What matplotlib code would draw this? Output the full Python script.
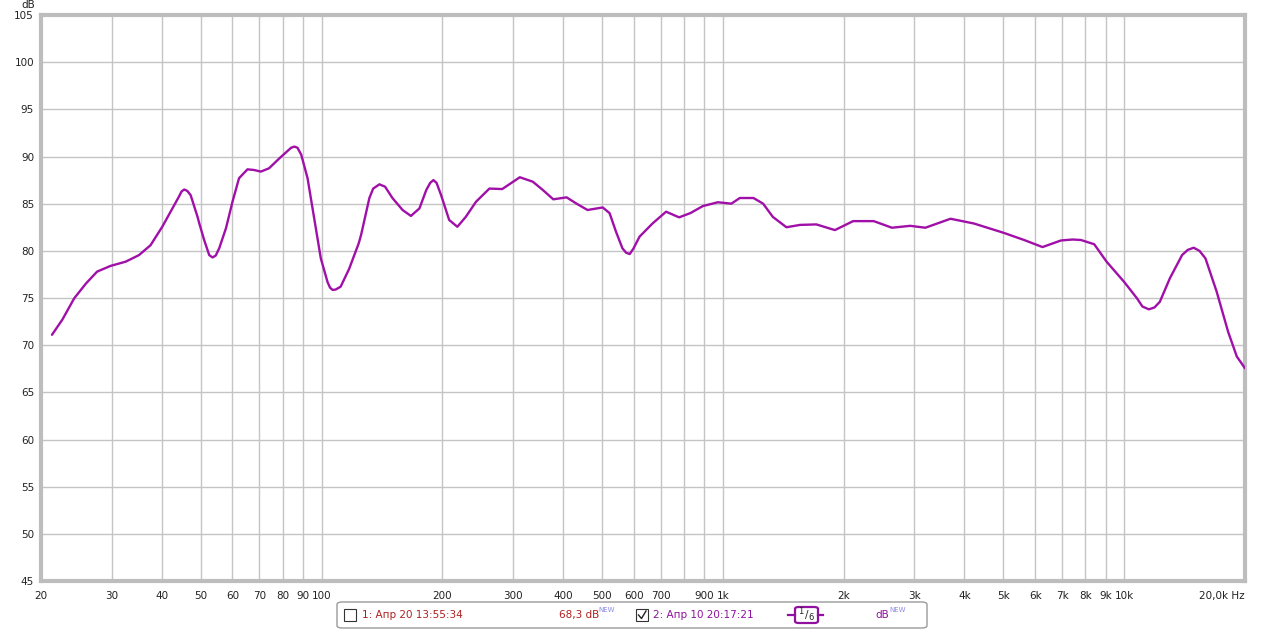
import matplotlib.pyplot as plt
import matplotlib.ticker as mticker
from matplotlib.patches import FancyBboxPatch, Rectangle
from matplotlib.lines import Line2D

# Data
freq = [21.3, 22.6, 24.2, 25.9, 27.6, 29.8, 32.5, 35.1, 37.5, 40.1, 42.5, 44.2,
        44.8, 45.5, 46.3, 47.2, 49.1, 49.6, 51.0, 51.5, 52.5, 53.5, 54.5, 55.6, 57.8,
        60.0, 62.3, 65.4, 67.9, 70.6, 74.0, 78.5, 82.4, 84.0, 85.6, 87.1, 89.0, 92.3,
        95.9, 99.6, 103.5, 105.0, 106.6, 108.5, 111.6, 117.2, 123.8, 125.5, 131.6,
        134.5, 139.4, 144, 150.2, 159.2, 167, 175.4, 182.4, 186.5, 190, 193.5, 198.6,
        208, 218, 228.8, 242.6, 262, 282, 312, 336, 356, 378, 408, 432, 460, 502,
        522, 542, 562, 574, 586, 598, 620, 668, 722, 778, 830, 892, 972, 1050, 1102,
        1192, 1260, 1332, 1440, 1558, 1710, 1902, 2112, 2376, 2638, 2930, 3196,
        3692, 4220, 5016, 5630, 6258, 6960, 7440, 7800, 8420, 9040, 10000, 10760,
        11100, 11520, 11900, 12270, 13000, 13940, 14400, 14900, 15400, 15940,
        17000, 18160, 19080, 20000]
level = [71.1, 72.7, 74.97, 76.55, 77.8, 78.4, 78.85, 79.55, 80.6, 82.55, 84.5, 85.8,
         86.3, 86.5, 86.35, 85.9, 83.6, 82.9, 81.15, 80.6, 79.55, 79.3, 79.5, 80.27, 82.4,
         85.2, 87.7, 88.64, 88.57, 88.4, 88.75, 89.8, 90.6, 90.93, 91.05, 90.93, 90.2, 87.7,
         83.45, 79.2, 76.7, 76.1, 75.85, 75.9, 76.2, 78.1, 80.8, 81.7, 85.6,
         86.6, 87.05, 86.8, 85.6, 84.33, 83.7, 84.5, 86.45, 87.2, 87.5, 87.2, 85.9,
         83.27, 82.55, 83.6, 85.2, 86.6, 86.55, 87.8, 87.33, 86.45, 85.46, 85.67, 85.0, 84.33, 84.6,
         84.0, 82.0, 80.27, 79.8, 79.66, 80.2, 81.5, 82.9, 84.15, 83.55, 84.0, 84.75, 85.15, 85.0, 85.6,
         85.6, 85.0, 83.6, 82.5, 82.75, 82.8, 82.2, 83.15, 83.15, 82.45, 82.65, 82.45,
         83.4, 82.9, 81.9, 81.15, 80.4, 81.1, 81.2, 81.15, 80.7, 78.85, 76.7, 74.97,
         74.1, 73.8, 74.0, 74.6, 77.1, 79.55, 80.1, 80.33, 80.0, 79.2,
         75.67, 71.4, 68.8, 67.55]

x_ticks = [20, 30, 40, 50, 60, 70, 80, 90, 100, 200, 300, 400, 500, 600, 700, 800,
           900, 1000, 2000, 3000, 4000, 5000, 6000, 7000, 8000, 9000, 10000, 20000]
x_labels = ['20', '30', '40', '50', '60', '70', '80', '90', '100', '200', '300',
            '400', '500', '600', '700', '', '900', '1k', '2k', '3k', '4k', '5k',
            '6k', '7k', '8k', '9k', '10k', '20,0k Hz']
y_ticks = list(range(45, 106, 5))

legend_1 = '1: Апр 20 13:55:34'
legend_1_value = '68,3 dB'
legend_2 = '2: Апр 10 20:17:21'

plt.rcParams['font.family'] = ['DejaVu Sans']
fs = 7.5

W, H = 1265, 630
fig = plt.figure(figsize=(W / 100, H / 100), dpi=100)
ax = fig.add_axes([41 / W, 1 - 581 / H, (1245 - 41) / W, (581 - 15) / H])

ax.plot(freq, level, color='#a010a8', linewidth=1.7, solid_capstyle='round',
        solid_joinstyle='round', zorder=3)

ax.set_xscale('log')
ax.set_xlim(20, 20000)
ax.set_ylim(45, 105)
ax.xaxis.set_major_locator(mticker.FixedLocator(x_ticks))
ax.xaxis.set_major_formatter(mticker.FixedFormatter(x_labels))
ax.xaxis.set_minor_locator(mticker.NullLocator())
ax.set_yticks(y_ticks)
ax.grid(True, color='#c4c4c4', linewidth=1.0)
ax.tick_params(length=0, labelsize=fs, colors='#222222', pad=5)
ax.tick_params(axis='x', pad=7)
# the last label ends at the right edge
for lbl in ax.get_xticklabels():
    if 'Hz' in lbl.get_text():
        lbl.set_horizontalalignment('right')
for sp in ax.spines.values():
    sp.set_color('#bdbdbd')
    sp.set_linewidth(3)

fig.text(28 / W, 1 - 5 / H, 'dB', fontsize=fs, ha='center', va='center', color='#222222')

# legend strip at bottom
fig.patches.append(FancyBboxPatch((337 / W, 1 - 628 / H), 590 / W, 26 / H,
                                  boxstyle='round,pad=0,rounding_size=0.004',
                                  transform=fig.transFigure, facecolor='white',
                                  edgecolor='#9a9a9a', linewidth=1))
yc = 1 - 615 / H
fig.patches.append(Rectangle((344 / W, 1 - 621 / H), 12 / W, 12 / H,
                             transform=fig.transFigure, facecolor='white',
                             edgecolor='#333333', linewidth=0.8))
fig.text(362 / W, yc, legend_1, fontsize=fs, color='#b02020', va='center')
fig.text(559 / W, yc, legend_1_value, fontsize=fs, color='#b02020', va='center')
fig.text(598 / W, 1 - 610 / H, 'NEW', fontsize=5, color='#8a8ae0', va='center')

fig.patches.append(Rectangle((636 / W, 1 - 621 / H), 12 / W, 12 / H,
                             transform=fig.transFigure, facecolor='white',
                             edgecolor='#333333', linewidth=0.8))
fig.lines.append(Line2D([638.5 / W, 641.5 / W, 646 / W],
                        [1 - 615 / H, 1 - 618.5 / H, 1 - 611 / H],
                        transform=fig.transFigure, color='#222222', linewidth=1))
fig.text(653 / W, yc, legend_2, fontsize=fs, color='#9010a0', va='center')

# smoothing marker: short dashes either side of a rounded box
for x0, x1 in [(788, 795), (818, 823)]:
    fig.lines.append(Line2D([x0 / W, x1 / W], [yc, yc], transform=fig.transFigure,
                            color='#9010a0', linewidth=1.6))
fig.patches.append(FancyBboxPatch((795 / W, 1 - 623 / H), 23 / W, 16 / H,
                                  boxstyle='round,pad=0,rounding_size=0.003',
                                  transform=fig.transFigure, facecolor='white',
                                  edgecolor='#9010a0', linewidth=1.6))
fig.text(801 / W, 1 - 612 / H, '1', fontsize=6, color='#222222', va='center', ha='center')
fig.text(806.5 / W, yc, '/', fontsize=7.5, color='#222222', va='center', ha='center')
fig.text(811.5 / W, 1 - 617 / H, '6', fontsize=6, color='#222222', va='center', ha='center')

fig.text(875 / W, yc, 'dB', fontsize=fs, color='#9010a0', va='center')
fig.text(889 / W, 1 - 610 / H, 'NEW', fontsize=5, color='#8a8ae0', va='center')

fig.savefig('out.png', dpi=100)
